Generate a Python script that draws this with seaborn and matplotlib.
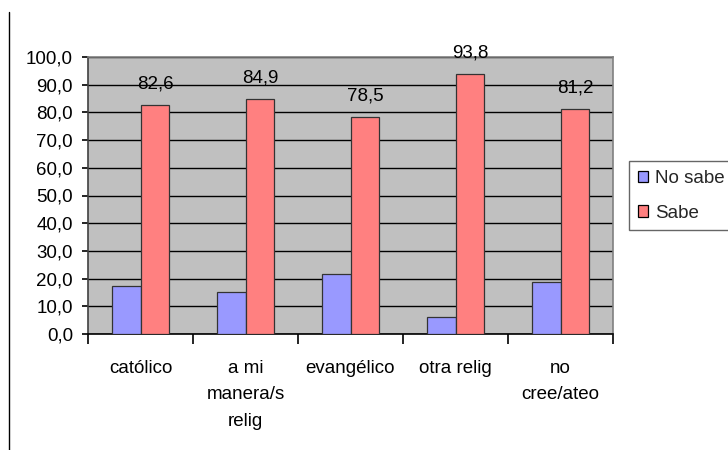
import matplotlib
matplotlib.use("Agg")
import matplotlib.pyplot as plt
from matplotlib.lines import Line2D
from matplotlib.ticker import FixedLocator, FuncFormatter
import seaborn as sns
import pandas as pd

# Religious affiliation groups and share (%) that know / don't know
categories = ["católico", "a mi\nmanera/s\nrelig", "evangélico", "otra relig", "no\ncree/ateo"]
no_sabe = [17.4, 15.1, 21.5, 6.2, 18.8]
sabe = [82.6, 84.9, 78.5, 93.8, 81.2]
series = ["No sabe", "Sabe"]
yticks = [0, 10, 20, 30, 40, 50, 60, 70, 80, 90, 100]

df = pd.DataFrame({
    "grupo": categories * 2,
    "serie": [series[0]] * len(categories) + [series[1]] * len(categories),
    "valor": no_sabe + sabe,
})

sns.set_theme(style="white")
plt.rcParams["font.family"] = ["Liberation Sans", "DejaVu Sans"]
FS = 13.5

fig = plt.figure(figsize=(7.28, 4.5), dpi=100)
ax = fig.add_axes([88 / 728, 1 - 334 / 450, (613 - 88) / 728, (334 - 57) / 450])

palette = {"No sabe": "#9999FF", "Sabe": "#FF8080"}
sns.barplot(data=df, x="grupo", y="valor", hue="serie", order=categories,
            hue_order=series, palette=palette, width=0.55, gap=0,
            edgecolor="#333333", linewidth=0.9, saturation=1, ax=ax, zorder=3)

ax.set_facecolor("#C0C0C0")
ax.set_ylim(0, 100)
ax.set_xlim(-0.5, len(categories) - 0.5)
ax.set_yticks(yticks)
ax.yaxis.set_major_formatter(FuncFormatter(lambda v, _: f"{v:.1f}".replace(".", ",")))
ax.yaxis.grid(True, color="black", linewidth=1.0, zorder=0)
ax.set_axisbelow(True)
ax.set_xlabel("")
ax.set_ylabel("")

for side in ["top", "right"]:
    ax.spines[side].set_color("#808080")
    ax.spines[side].set_linewidth(1.2)
ax.spines["left"].set_color("#404040")
ax.spines["bottom"].set_color("black")
for side in ["left", "bottom"]:
    ax.spines[side].set_linewidth(1.2)

ax.tick_params(axis="y", which="major", left=True, length=4.3, width=1.2,
               color="black", labelsize=FS, pad=6.5, labelcolor="black")
ax.tick_params(axis="x", which="major", bottom=False, length=0,
               labelsize=FS, pad=18.5, labelcolor="black")
ax.xaxis.set_minor_locator(FixedLocator([i - 0.5 for i in range(len(categories) + 1)]))
ax.tick_params(axis="x", which="minor", bottom=True, length=7, width=1.2,
               color="black", direction="out")
for lbl in ax.get_xticklabels():
    lbl.set_linespacing(1.75)
    lbl.set_verticalalignment("top")

# value labels above the "Sabe" bars
sabe_container = ax.containers[1]
ax.bar_label(sabe_container, labels=[f"{v:.1f}".replace(".", ",") for v in sabe],
             padding=9, fontsize=FS, color="black")

# legend box
handles, labels = ax.get_legend_handles_labels()
ax.legend_.remove()
leg = fig.legend(handles, labels, loc="upper left",
                 bbox_to_anchor=(629 / 728, 1 - 161 / 450),
                 fontsize=FS, frameon=True, fancybox=False, shadow=False,
                 handlelength=0.55, handleheight=0.55, handletextpad=0.37,
                 borderpad=0.47, labelspacing=0.95, borderaxespad=0)
leg.get_frame().set_edgecolor("#404040")
leg.get_frame().set_linewidth(1.0)
leg.get_frame().set_facecolor("white")
for h in leg.legend_handles:
    h.set_edgecolor("black")
    h.set_linewidth(0.9)

# thin frame line on the left edge of the sheet
fig.add_artist(Line2D([9 / 728, 9 / 728], [0, 1 - 12 / 450], color="black",
                      linewidth=1.0, transform=fig.transFigure))

fig.savefig("out.png", dpi=100, facecolor="white")
